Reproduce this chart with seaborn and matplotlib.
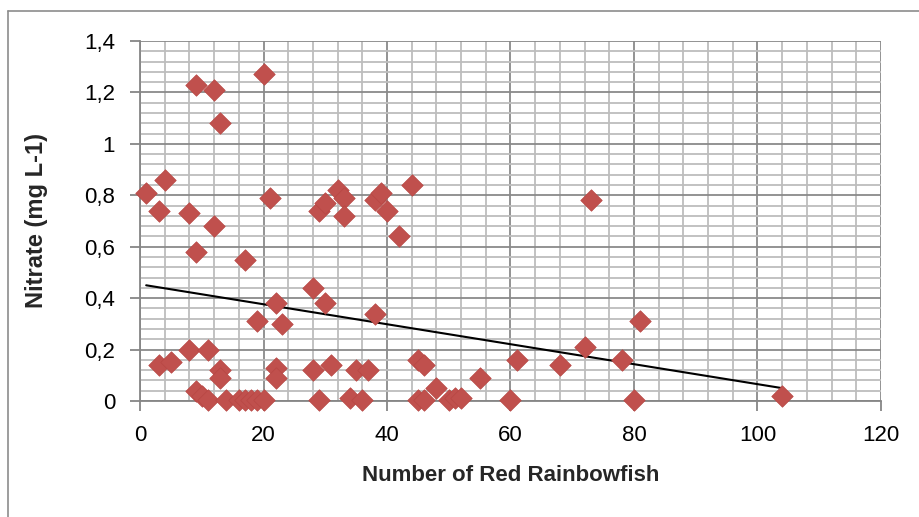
import numpy as np
import pandas as pd
import matplotlib
matplotlib.use("Agg")
import matplotlib.pyplot as plt
import seaborn as sns
from matplotlib.ticker import MultipleLocator, FuncFormatter
from matplotlib.lines import Line2D

# values
fish_count = [1, 3, 4, 8, 9, 12, 17, 21,
              9, 12, 13, 20,
              29, 30, 32, 33, 33, 38, 39, 40, 44, 42,
              28, 22, 23, 30, 38,
              3, 5, 8, 11, 13, 13, 9, 10, 11, 14, 16, 17, 18, 19, 20, 19, 22, 22,
              28, 31, 35, 37, 29, 34, 36,
              45, 46, 48, 45, 46, 50, 51, 52,
              55, 61, 60, 68, 72, 73, 78, 80, 81, 104]
nitrate = [0.81, 0.74, 0.86, 0.73, 0.58, 0.68, 0.55, 0.79,
           1.23, 1.21, 1.08, 1.27,
           0.74, 0.77, 0.82, 0.79, 0.72, 0.78, 0.81, 0.74, 0.84, 0.64,
           0.44, 0.38, 0.30, 0.38, 0.34,
           0.14, 0.15, 0.20, 0.20, 0.12, 0.09, 0.04, 0.02, 0.005, 0.005, 0.005, 0.005, 0.005, 0.005, 0.005, 0.31, 0.13, 0.09,
           0.12, 0.14, 0.12, 0.12, 0.005, 0.01, 0.005,
           0.16, 0.14, 0.05, 0.005, 0.005, 0.005, 0.01, 0.01,
           0.09, 0.16, 0.005, 0.14, 0.21, 0.78, 0.16, 0.005, 0.31, 0.02]

# linear trendline end points
trend_x = [1, 104]
trend_y = [0.45, 0.05]

df = pd.DataFrame({"fish": fish_count, "nitrate": nitrate})

sns.set_theme(style="white")
plt.rcParams['font.family'] = ['Liberation Sans', 'DejaVu Sans']

fig = plt.figure(figsize=(9.2, 5.17), dpi=100)
ax = fig.add_axes([140/920, 1 - 401/517, 741/920, 360/517])

ax.set_xlim(0, 120)
ax.set_ylim(0, 1.4)
ax.xaxis.set_major_locator(MultipleLocator(20))
ax.xaxis.set_minor_locator(MultipleLocator(4))
ax.yaxis.set_major_locator(MultipleLocator(0.2))
ax.yaxis.set_minor_locator(MultipleLocator(0.04))
ax.grid(which='major', color='#8a8a8a', linewidth=1.3)
ax.grid(which='minor', color='#bdbdbd', linewidth=1.3)
ax.set_axisbelow(True)

sns.lineplot(x=trend_x, y=trend_y, color='black', linewidth=1.5, ax=ax, zorder=3)
sns.scatterplot(data=df, x="fish", y="nitrate", marker='D', s=120,
                color='#C0504D', edgecolor='#B84743', linewidth=0.5,
                ax=ax, zorder=4, clip_on=False)

for side in ['top', 'right']:
    ax.spines[side].set_visible(False)
for side in ['left', 'bottom']:
    ax.spines[side].set_color('#868686')
    ax.spines[side].set_linewidth(1.3)

ax.tick_params(axis='both', which='major', length=7, width=1.3, color='#868686',
               direction='out', labelsize=16, labelcolor='black',
               bottom=True, left=True)
ax.tick_params(axis='x', which='major', pad=10)
ax.tick_params(axis='y', which='major', pad=11)
ax.tick_params(axis='both', which='minor', length=0)
ax.yaxis.set_major_formatter(FuncFormatter(lambda v, p: ('%g' % round(v, 1)).replace('.', ',')))

ax.set_xlabel("Number of Red Rainbowfish", fontsize=16, fontweight='bold', labelpad=14)
ax.set_ylabel("Nitrate (mg L-1)", fontsize=17, fontweight='bold', labelpad=26)

# chart area border
fig.add_artist(Line2D([8/920, 8/920], [0, 1 - 11/517], transform=fig.transFigure,
                      color='#8c8c8c', linewidth=1.2))
fig.add_artist(Line2D([8/920, 1], [1 - 11/517, 1 - 11/517], transform=fig.transFigure,
                      color='#8c8c8c', linewidth=1.2))

fig.savefig("out.png", dpi=100)
